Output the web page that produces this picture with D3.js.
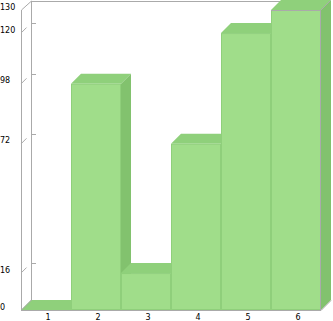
<!DOCTYPE html>
<html>
<head>
<meta charset="utf-8">
<script src="https://cdn.jsdelivr.net/npm/d3@7"></script>
<style>
  html, body { margin: 0; padding: 0; background: #fff; }
  svg { display: block; }
  text { font-family: "DejaVu Sans", sans-serif; font-size: 8px; fill: #000; }
</style>
</head>
<body>
<script>
// Chart data
const categories = ["1", "2", "3", "4", "5", "6"];
const values = [0, 98, 16, 72, 120, 130];
const yTicks = [0, 16, 72, 98, 120, 130];

const W = 333, H = 321;
const depthX = 10, depthY = 10;      // 3D offset of the back wall
const plotLeft = 21, plotRight = 321, plotTop = 10, plotBottom = 310;

const svg = d3.select("body").append("svg").attr("width", W).attr("height", H);

const x = d3.scaleBand().domain(categories).range([plotLeft, plotRight]).padding(0);
const y = d3.scaleLinear().domain([0, 130]).range([plotBottom, plotTop]);

const frameColor = "#aaaaaa";
const frontColor = "#a0dd8a", topColor = "#8fd07b", sideColor = "#82c26e", edgeColor = "#8fcf7b";

// Walls / frame
const frame = svg.append("g").attr("fill", "none").attr("stroke", frameColor).attr("stroke-width", 1);
frame.append("line").attr("x1", plotLeft + 0.5).attr("y1", plotTop).attr("x2", plotLeft + 0.5).attr("y2", plotBottom);
frame.append("line").attr("x1", plotLeft + depthX + 0.5).attr("y1", 1).attr("x2", plotLeft + depthX + 0.5).attr("y2", plotBottom - depthY);
frame.append("line").attr("x1", plotLeft + 0.5).attr("y1", plotTop).attr("x2", plotLeft + depthX + 0.5).attr("y2", 1);
frame.append("line").attr("x1", plotLeft + depthX).attr("y1", 1.5).attr("x2", plotRight + depthX).attr("y2", 1.5);

// Tick marks on the left walls
yTicks.filter(v => v > 0 && v < 130).forEach(v => {
  const yf = y(v);
  frame.append("line").attr("x1", plotLeft + 0.5).attr("y1", yf - 0.5).attr("x2", plotLeft + 5.5).attr("y2", yf - 5.5);
  frame.append("line").attr("x1", plotLeft + depthX).attr("y1", Math.round(yf - depthY) + 0.5).attr("x2", plotLeft + depthX + 5).attr("y2", Math.round(yf - depthY) + 0.5);
});

// Bars: side, top, then front
const bars = svg.append("g");
categories.forEach((c, i) => {
  const v = values[i];
  const x0 = x(c), x1 = x(c) + x.bandwidth();
  const yt = y(v), yb = y(0);
  const g = bars.append("g");
  const isMax = v === d3.max(values);
  g.append("path")
    .attr("d", `M${x1},${yt}L${x1 + depthX},${yt - depthY}L${x1 + depthX},${yb - depthY}L${x1},${yb}Z`)
    .attr("fill", sideColor);
  g.append("path")
    .attr("d", `M${x0},${yt}L${x0 + depthX},${yt - depthY}L${x1 + depthX},${yt - depthY}L${x1},${yt}Z`)
    .attr("fill", topColor);
  if (v > 0) {
    g.append("rect")
      .attr("x", x0 + 0.5).attr("y", yt + 0.5)
      .attr("width", x.bandwidth() - 1).attr("height", yb - yt - 1)
      .attr("fill", frontColor).attr("stroke", edgeColor);
  }
  if (isMax) {
    g.append("path")
      .attr("d", `M${x0},${yt + 0.5}L${x1 - 0.5},${yt + 0.5}L${x1 - 0.5},${yb}M${x1 - 0.5},${yt + 0.5}L${x1 + depthX - 0.5},${yt - depthY + 0.5}`)
      .attr("fill", "none").attr("stroke", frameColor);
  }
});

// Floor edges
svg.append("line").attr("x1", plotLeft).attr("y1", plotBottom + 0.5).attr("x2", plotRight).attr("y2", plotBottom + 0.5).attr("stroke", frameColor);
svg.append("line").attr("x1", plotRight).attr("y1", plotBottom + 0.5).attr("x2", plotRight + depthX).attr("y2", plotBottom - depthY + 0.5).attr("stroke", frameColor);
svg.append("line").attr("x1", plotLeft + 0.5).attr("y1", plotBottom).attr("x2", plotLeft + depthX + 0.5).attr("y2", plotBottom - depthY).attr("stroke", frameColor);

// Axis labels
svg.append("g").selectAll("text").data(yTicks).join("text")
  .attr("x", 0).attr("y", d => y(d) - 0.5)
  .text(d => d);

svg.append("g").selectAll("text").data(categories).join("text")
  .attr("x", d => x(d) + x.bandwidth() / 2 + 2).attr("y", 320)
  .attr("text-anchor", "middle")
  .text(d => d);
</script>
</body>
</html>
